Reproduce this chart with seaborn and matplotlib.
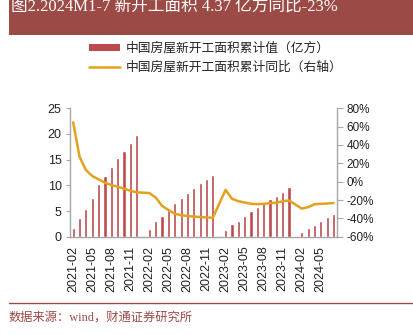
import numpy as np
import pandas as pd
import matplotlib
matplotlib.use("Agg")
import matplotlib.pyplot as plt
import seaborn as sns
from matplotlib.patches import Patch, Rectangle
from matplotlib.lines import Line2D

# ---- data ----
months = pd.period_range("2021-02", "2024-07", freq="M").strftime("%Y-%m").tolist()
cum_area = [1.70, 3.62, 5.30, 7.56, 10.18, 11.83, 13.51, 15.24, 16.59, 18.31, 19.89,
            np.nan, 1.51, 2.98, 3.99, 5.18, 6.60, 7.60, 8.56, 9.46, 10.40, 11.17, 12.06,
            np.nan, 1.36, 2.42, 3.13, 4.00, 4.99, 5.80, 6.50, 7.40, 8.00, 8.80, 9.60,
            np.nan, 0.90, 1.75, 2.34, 3.03, 3.80, 4.37]
yoy = [64.7, 27.3, 12.7, 6.2, 2.5, -1.1, -3.6, -5.5, -7.6, -9.9, -11.6,
       np.nan, -12.4, -17.3, -26.4, -30.8, -35.0, -36.5, -37.4, -38.1, -38.5, -39.1, -39.3,
       np.nan, -8.9, -18.6, -21.3, -22.7, -24.2, -24.5, -24.2, -23.4, -22.9, -21.3, -20.5,
       np.nan, -29.4, -27.8, -24.6, -24.2, -23.8, -23.3]
bar_label = "中国房屋新开工面积累计值（亿方）"
line_label = "中国房屋新开工面积累计同比（右轴）"
title = "图2.2024M1-7 新开工面积 4.37 亿方同比-23%"
source = "数据来源：wind，财通证券研究所"

df = pd.DataFrame({"month": months, "pos": np.arange(len(months)),
                   "area": cum_area, "yoy": yoy})

# ---- style ----
sns.set_style("white")
plt.rcParams["font.family"] = ["Liberation Sans", "Noto Sans CJK SC", "DejaVu Sans"]

BAR = "#BA4A4C"
LINE = "#E3A21E"
BAND = "#9C4A46"
GREY = "#A6A6A6"

fig = plt.figure(figsize=(4.13, 3.35), dpi=100)
ax = fig.add_axes([70 / 413, 1 - 236.7 / 335, 267 / 413, 128.4 / 335])

sns.barplot(data=df, x="pos", y="area", color=BAR, width=0.5, ax=ax,
            saturation=1, native_scale=True)
ax2 = ax.twinx()
dl = df.dropna(subset=["yoy"])
sns.lineplot(data=dl, x="pos", y="yoy", color=LINE, linewidth=1.8, ax=ax2,
             sort=True)

ax.set_xlim(-0.5, len(months) - 0.45)
ax.set_ylim(0, 25)
ax.set_yticks(np.arange(0, 26, 5))
ax2.set_ylim(-60, 80)
ax2.set_yticks(np.arange(-60, 81, 20))
ax2.set_yticklabels([f"{v}%" for v in range(-60, 81, 20)])

ticks = list(range(0, len(months), 3))
ax.set_xticks(ticks)
ax.set_xticklabels([months[i] for i in ticks], rotation=90, fontsize=9)
ax.set_xlabel("")
ax.set_ylabel("")
ax2.set_xlabel("")
ax2.set_ylabel("")

for a in (ax, ax2):
    for s in a.spines.values():
        s.set_visible(False)
    a.grid(False)
ax.spines["left"].set_visible(True)
ax.spines["bottom"].set_visible(True)
ax2.spines["right"].set_visible(True)
for s in (ax.spines["left"], ax.spines["bottom"], ax2.spines["right"]):
    s.set_color(GREY)
    s.set_linewidth(1)

ax.tick_params(axis="y", left=True, length=3, color=GREY, labelsize=9, pad=3, labelcolor="#222222")
ax.tick_params(axis="x", bottom=False, labelsize=9, pad=3, labelcolor="#222222")
ax2.tick_params(axis="y", right=True, length=4, color=GREY, labelsize=8.5, pad=3, labelcolor="#222222")

# legend
handles = [Patch(facecolor=BAR, edgecolor="none"),
           Line2D([0], [0], color=LINE, linewidth=1.8)]
fig.legend(handles, [bar_label, line_label], loc="upper left",
           bbox_to_anchor=(84 / 413, 1 - 37 / 335), frameon=False,
           prop={"family": ["Noto Sans CJK SC"], "size": 9.2},
           handlelength=2.4, handleheight=0.45, handletextpad=0.45,
           labelspacing=0.45, borderaxespad=0)

# title band
fig.patches.append(Rectangle((9 / 413, 1 - 35 / 335), 404 / 413, 35 / 335,
                             transform=fig.transFigure, facecolor=BAND,
                             edgecolor="none", zorder=0))
fig.text(11 / 413, 1 - 7 / 335, title, color="white", fontsize=12,
         family=["Liberation Serif", "Noto Sans CJK SC"], va="center", ha="left")

# bottom rule and source
fig.add_artist(Line2D([9 / 413, 1], [1 - 303 / 335] * 2, transform=fig.transFigure,
                      color=BAND, linewidth=1))
fig.text(9 / 413, 1 - 318 / 335, source, color=BAND, fontsize=8.8,
         family=["Liberation Serif", "Noto Sans CJK SC"], va="center", ha="left")

fig.savefig("out.png", dpi=100)
